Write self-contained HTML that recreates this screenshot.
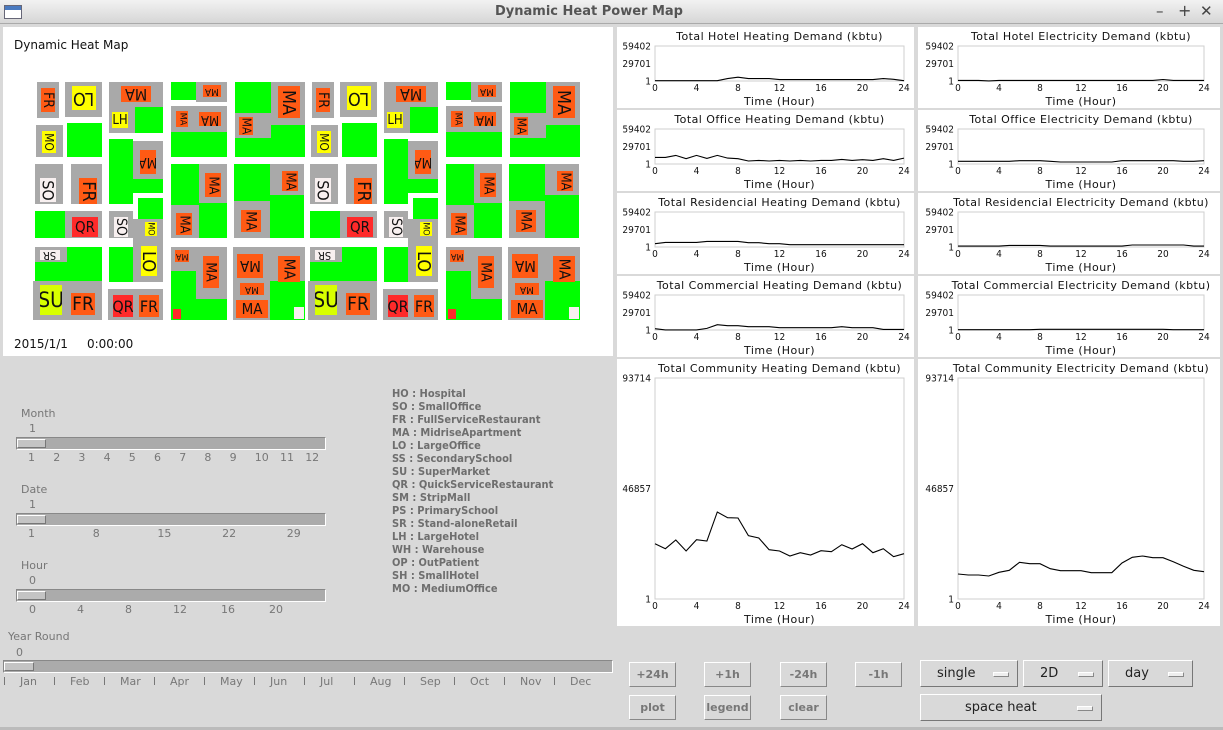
<!DOCTYPE html>
<html><head><meta charset="utf-8">
<style>
*{box-sizing:border-box;margin:0;padding:0}
body{width:1223px;height:730px;background:#d9d9d9;font-family:"DejaVu Sans","Liberation Sans",sans-serif;position:relative;overflow:hidden}
.a{position:absolute}
#titlebar{left:0;top:0;width:1223px;height:24px;background:linear-gradient(#f2f2f2,#d6d6d6);border-bottom:1px solid #aaa}
#title{left:0;top:4px;width:1178px;text-align:center;font-weight:bold;font-size:13px;color:#555}
.panel{background:#fff}
.g{background:#a9a9a9}
.gr{background:#00ff00}
.lb{position:absolute;display:flex;align-items:center;justify-content:center;font-family:"DejaVu Sans Condensed","DejaVu Sans",sans-serif;color:#111;overflow:hidden}
.o{background:#ff5a14}.y{background:#ffff00}.r{background:#ff2a2a}.w{background:#f8f0f0}.yg{background:#d8ff00}
.sl{font-size:11px;color:#777}
.track{background:#ababab;border:1px solid #fff;border-top-color:#888;border-left-color:#888}
.thumb{background:#c4c4c4;border:1px solid #fff;border-right-color:#777;border-bottom-color:#777}
.leg{left:392px;font-size:11px;font-weight:bold;color:#6e6e6e;font-family:"DejaVu Sans Condensed","DejaVu Sans",sans-serif}
.btn{font-size:11px;font-weight:bold;color:#777;border:1px solid #fff;border-right-color:#888;border-bottom-color:#888;background:#d9d9d9;display:flex;align-items:center;justify-content:center}
.dd{font-size:13px;color:#222;border:1px solid #fff;border-right-color:#777;border-bottom-color:#777;background:#d9d9d9;display:flex;align-items:center;padding-left:16px}
.dd i{position:absolute;right:8px;top:11px;width:16px;height:5px;background:#eee;border:1px solid #888;border-top-color:#fff;border-left-color:#fff}
</style></head><body>
<div class="a" id="titlebar"></div>
<div class="a" style="left:4px;top:5px;width:18px;height:14px;border:1px solid #667;background:linear-gradient(#4a7ac0 0 4px,#fff 4px)"></div>
<div class="a" id="title">Dynamic Heat Power Map</div>
<div class="a" style="left:1156px;top:2px;font-size:15px;color:#444">–</div>
<div class="a" style="left:1178px;top:1px;font-size:16px;color:#444">+</div>
<div class="a" style="left:1200px;top:2px;font-size:15px;color:#444">✕</div>

<div class="a panel" style="left:3px;top:27px;width:610px;height:329px"></div>
<div class="a" style="left:14px;top:38px;font-size:12px;color:#111">Dynamic Heat Map</div>
<div class="a" style="left:14px;top:337px;font-size:12px;color:#111">2015/1/1&nbsp;&nbsp;&nbsp;&nbsp; 0:00:00</div>
<div id="map" class="a" style="left:0;top:0"></div>

<!-- sliders -->
<div class="a sl" style="left:21px;top:407px">Month</div>
<div class="a sl" style="left:29px;top:422px">1</div>
<div class="a track" style="left:16px;top:437px;width:310px;height:13px"></div>
<div class="a thumb" style="left:17px;top:439px;width:29px;height:9px"></div>
<div class="a sl" style="left:0;top:451px" id="mticks"></div>
<div class="a sl" style="left:21px;top:483px">Date</div>
<div class="a sl" style="left:29px;top:498px">1</div>
<div class="a track" style="left:16px;top:513px;width:310px;height:13px"></div>
<div class="a thumb" style="left:17px;top:515px;width:29px;height:9px"></div>
<div class="a sl" style="left:0;top:527px" id="dticks"></div>
<div class="a sl" style="left:21px;top:559px">Hour</div>
<div class="a sl" style="left:29px;top:574px">0</div>
<div class="a track" style="left:16px;top:589px;width:310px;height:13px"></div>
<div class="a thumb" style="left:17px;top:591px;width:29px;height:9px"></div>
<div class="a sl" style="left:0;top:603px" id="hticks"></div>
<div class="a sl" style="left:8px;top:630px">Year Round</div>
<div class="a sl" style="left:16px;top:646px">0</div>
<div class="a track" style="left:3px;top:660px;width:610px;height:13px"></div>
<div class="a thumb" style="left:4px;top:662px;width:30px;height:9px"></div>
<div class="a sl" style="left:0;top:675px" id="yticks"></div>

<div id="legend"></div>

<!-- right chart panels -->
<div id="panels"></div>
<svg id="charts" class="a" style="left:0;top:0" width="1223" height="730"></svg>

<!-- buttons -->
<div class="a btn" style="left:629px;top:662px;width:47px;height:25px">+24h</div>
<div class="a btn" style="left:704px;top:662px;width:47px;height:25px">+1h</div>
<div class="a btn" style="left:780px;top:662px;width:47px;height:25px">-24h</div>
<div class="a btn" style="left:855px;top:662px;width:47px;height:25px">-1h</div>
<div class="a btn" style="left:629px;top:695px;width:47px;height:25px">plot</div>
<div class="a btn" style="left:704px;top:695px;width:47px;height:25px">legend</div>
<div class="a btn" style="left:780px;top:695px;width:47px;height:25px">clear</div>
<div class="a dd" style="left:920px;top:660px;width:98px;height:27px">single<i></i></div>
<div class="a dd" style="left:1023px;top:660px;width:80px;height:27px">2D<i></i></div>
<div class="a dd" style="left:1108px;top:660px;width:85px;height:27px">day<i></i></div>
<div class="a dd" style="left:920px;top:694px;width:182px;height:27px;padding-left:44px">space heat<i></i></div>
<div class="a" style="left:0;top:727px;width:1223px;height:3px;background:#bbb"></div>

<script>
// ---- chart data ----
const hours = [0,1,2,3,4,5,6,7,8,9,10,11,12,13,14,15,16,17,18,19,20,21,22,23,24];
const xTicks = [0,4,8,12,16,20,24];
const smallYTicks = [1,29701,59402];
const bigYTicks = [1,46857,93714];
const hotelHeat = [500,500,500,500,500,500,500,4000,6400,4000,4000,4000,2300,2300,2300,2300,2300,2300,2300,2300,2300,2300,4000,2900,500];
const hotelElec = [1000,1000,1000,200,1000,1000,1000,1000,1000,1000,1000,1000,1000,1000,1000,1000,1000,1000,1000,1000,2500,1000,1000,1000,1000];
const officeHeat = [11200,11200,14560,8960,14560,9520,14560,10080,8960,5040,6160,5040,6160,5040,6160,5040,6160,6160,7840,6160,7280,6160,8960,6160,10080];
const officeElec = [4500,4500,4500,4500,4500,4500,5600,5600,5600,4500,3400,3400,3400,3400,3400,3400,5600,5600,5600,5600,5600,5600,4500,4500,5600];
const resHeat = [5600,7840,7840,7840,7840,9520,9520,9520,9520,7280,7280,5600,5600,3920,3920,3920,3920,3920,3920,3920,3920,3920,3920,3920,3920];
const resElec = [1500,1500,1500,1500,1500,2800,2800,2800,2800,1500,1500,1500,1500,1500,1500,1500,1500,3400,3400,3400,3400,3400,3400,1500,1500];
const comHeat = [2240,200,200,200,200,2800,9000,7280,7280,5600,5600,5600,3920,3920,3920,3920,3920,3920,5600,3920,3920,3920,1100,1100,1100];
const comElec = [500,500,500,500,500,500,500,500,1200,1200,1200,1200,1200,1200,1200,1200,1200,1200,1200,1200,1200,500,500,500,500];
const commHeat = [23464,21344,25019,20354,25160,24595,36892,34489,34348,26856,25867,20920,20354,18234,19648,18658,20496,20072,23040,21202,23464,19648,21344,17951,19224];
const commElec = [10601,10177,10177,9753,11308,12156,15548,14983,14983,12862,12015,12015,12015,11166,11166,11166,15265,17668,18234,17527,17527,15831,13852,12156,11590];

const NS='http://www.w3.org/2000/svg';
const svg=document.getElementById('charts');
function mk(tag,attrs,parent){const e=document.createElementNS(NS,tag);for(const k in attrs)e.setAttribute(k,attrs[k]);(parent||svg).appendChild(e);return e;}
function txt(x,y,s,size,anchor,parent){const t=mk('text',{x:x,y:y,'font-size':size,'text-anchor':anchor||'middle','font-family':'DejaVu Sans, sans-serif',fill:'#111'},parent);t.textContent=s;return t;}
function txtc(x,y,s,size,anchor,parent){const t=txt(x,y,s,size,anchor,parent);t.setAttribute('font-family','DejaVu Sans Condensed, DejaVu Sans, sans-serif');return t;}

const panelsDiv=document.getElementById('panels');
function panel(x,y,w,h,name){const d=document.createElement('div');d.className='a panel';d.style.cssText=`left:${x}px;top:${y}px;width:${w}px;height:${h}px`;


panelsDiv.appendChild(d);}

function chart(name,title,data,px,py,pw,ph,yTicks,titleY,xlY,axY){
  const g=mk('g',{});
  
  
  const ymax=yTicks[yTicks.length-1], ymin=0;
  const sx=h=>px+h/24*pw;
  const sy=v=>py+ph-(v-ymin)/(ymax-ymin)*ph;
  mk('rect',{x:px,y:py,width:pw,height:ph,fill:'none',stroke:'#cfcfcf','stroke-width':1},g);
  const tt=txt(px+pw/2,titleY,title,11,'middle',g);
  tt.setAttribute('letter-spacing','0.45');
  
  yTicks.forEach(v=>{const t=txtc(px-4,sy(v)+3.5,String(v),10,'end',g);
    });
  xTicks.forEach(h=>{const t=txtc(sx(h),axY,String(h),10,'middle',g);
    });
  const xl=txt(px+pw/2,xlY,'Time (Hour)',11,'middle',g);
  xl.setAttribute('letter-spacing','0.5');
  
  const pts=hours.map((h,i)=>sx(h).toFixed(1)+','+sy(data[i]).toFixed(1)).join(' ');
  const line=mk('polyline',{points:pts,fill:'none',stroke:'#000','stroke-width':1.1},g);
  
  
}
const smalls=[
 ['hotel-heating-chart','Total Hotel Heating Demand (kbtu)',hotelHeat,'hotel-electricity-chart','Total Hotel Electricity Demand (kbtu)',hotelElec],
 ['office-heating-chart','Total Office Heating Demand (kbtu)',officeHeat,'office-electricity-chart','Total Office Electricity Demand (kbtu)',officeElec],
 ['residential-heating-chart','Total Residencial Heating Demand (kbtu)',resHeat,'residential-electricity-chart','Total Residencial Electricity Demand (kbtu)',resElec],
 ['commercial-heating-chart','Total Commercial Heating Demand (kbtu)',comHeat,'commercial-electricity-chart','Total Commercial Electricity Demand (kbtu)',comElec]];
smalls.forEach((s,i)=>{
  const top=27+i*83;
  panel(617,top,297,81,s[0]+'-panel');panel(918,top,302,81,s[3]+'-panel');
  chart(s[0],s[1],s[2],655,top+19,249,35,smallYTicks,top+13,top+78,top+64);
  chart(s[3],s[4],s[5],958,top+19,246,35,smallYTicks,top+13,top+78,top+64);
});
panel(617,359,297,267,'community-heating-panel');panel(918,359,302,267,'community-electricity-panel');
chart('community-heating-chart','Total Community Heating Demand (kbtu)',commHeat,655,378,249,221,bigYTicks,372,623,609);
chart('community-electricity-chart','Total Community Electricity Demand (kbtu)',commElec,958,378,246,221,bigYTicks,372,623,609);
svg.parentNode.appendChild(svg);

// slider ticks
function ticks(id,labels,x0,step){const d=document.getElementById(id);labels.forEach((l,i)=>{const s=document.createElement('span');s.className='a';s.style.left=(x0+i*step)+'px';s.style.top='0';s.style.whiteSpace='nowrap';s.textContent=l;


d.appendChild(s);});}
ticks('mticks',['1','2','3','4','5','6','7','8','9','10','11','12'],28,25.2);
ticks('dticks',['1','8','15','22','29'],28,64.7);
ticks('hticks',['0','4','8','12','16','20'],29,48);
ticks('yticks',['Jan','Feb','Mar','Apr','May','Jun','Jul','Aug','Sep','Oct','Nov','Dec'],20,50);
(function(){const d=document.getElementById('yticks');for(let i=0;i<12;i++){const m=document.createElement('div');m.className='a';m.style.cssText=`left:${4+i*50}px;top:2px;width:1px;height:8px;background:#777`;


d.appendChild(m);}})();

// legend
const legendItems=['HO : Hospital','SO : SmallOffice','FR : FullServiceRestaurant','MA : MidriseApartment','LO : LargeOffice','SS : SecondarySchool','SU : SuperMarket','QR : QuickServiceRestaurant','SM : StripMall','PS : PrimarySchool','SR : Stand-aloneRetail','LH : LargeHotel','WH : Warehouse','OP : OutPatient','SH : SmallHotel','MO : MediumOffice'];
legendItems.forEach((t,i)=>{const d=document.createElement('div');d.className='a leg';d.style.top=(387+i*13)+'px';d.textContent=t;


document.getElementById('legend').appendChild(d);});

// heat map (one half, repeated)
const rects=[
 ['g',37,82,22,36],['g',65,82,37,35],['g',109,82,54,25],['g',109,107,26,26],['gr',135,107,28,26],
 ['gr',171,82,25,18],['g',196,82,31,20],['g',171,106,56,26],['gr',171,132,56,25],
 ['gr',235,82,70,75],['g',271,82,34,43],['g',235,113,36,25],
 ['g',36,125,27,32],['gr',67,123,35,34],
 ['gr',109,139,24,65],['g',133,141,30,38],['gr',133,179,30,14],
 ['g',35,164,28,40],['g',71,164,31,40],
 ['g',171,164,56,74],['gr',171,164,28,41],['gr',199,203,28,35],
 ['g',234,164,70,74],['gr',234,164,36,37],['gr',270,195,34,43],
 ['gr',35,211,30,27],['g',65,211,37,27],['g',109,211,24,27],
 ['gr',138,198,25,21],['g',133,219,30,63],['gr',109,247,24,35],
 ['gr',35,247,67,45],['g',35,247,32,15],['g',33,281,69,39],['g',108,289,55,31],
 ['gr',171,247,56,73],['g',171,247,25,24],['g',196,247,31,52],
 ['g',233,247,72,73],['gr',270,281,35,39]];
const labels=[
 ['o','FR',41,88,14,24,90,14],['y','LO',72,86,24,24,180,18],['o','MA',121,86,30,16,180,16],['y','LH',112,112,16,16,0,13],
 ['o','MA',203,85,18,12,180,10],['o','MA',176,111,12,16,90,9],['o','MA',199,112,22,14,180,13],
 ['o','MA',278,86,22,32,90,18],['o','MA',239,117,14,18,90,12],['y','MO',42,131,14,22,90,12],
 ['o','MA',140,150,16,24,180,14],['w','SO',40,178,16,24,90,16],['o','FR',79,178,18,26,90,18],
 ['o','MA',205,173,16,24,90,13],['o','MA',176,213,16,22,90,13],['o','MA',282,171,16,20,90,13],['o','MA',241,210,20,22,90,14],
 ['r','QR',72,217,26,20,0,15],['w','SO',114,217,14,20,90,14],['y','MO',145,222,12,14,90,9],['y','LO',141,246,16,30,90,18],
 ['w','SR',40,250,20,10,180,11],['yg','SU',40,285,22,30,0,21],['o','FR',71,293,24,22,0,19],['r','QR',113,295,20,22,0,16],['o','FR',139,295,20,22,0,16],
 ['o','MA',175,250,14,12,180,9],['o','MA',203,256,16,32,90,14],['r','',173,309,8,10,0,5],
 ['o','MA',237,254,26,24,180,15],['o','MA',278,256,22,26,90,15],['o','MA',240,283,24,12,180,10],['o','MA',236,300,32,18,0,15],['w','',294,307,10,12,0,5]];
const map=document.getElementById('map');
[0,275].forEach(off=>{
 rects.forEach(r=>{const d=document.createElement('div');d.className='a '+r[0];d.style.cssText=`left:${r[1]+off}px;top:${r[2]}px;width:${r[3]}px;height:${r[4]}px`;
 
 
 map.appendChild(d);});
 labels.forEach(l=>{const d=document.createElement('div');d.className='lb '+l[0];d.style.cssText=`left:${l[2]+off}px;top:${l[3]}px;width:${l[4]}px;height:${l[5]}px;font-size:${l[7]}px`;
 const s=document.createElement('span');s.style.transform=`rotate(${l[6]}deg)`;s.style.display='inline-block';s.textContent=l[1];d.appendChild(s);
 
 
 map.appendChild(d);});
});
</script>
</body></html>
